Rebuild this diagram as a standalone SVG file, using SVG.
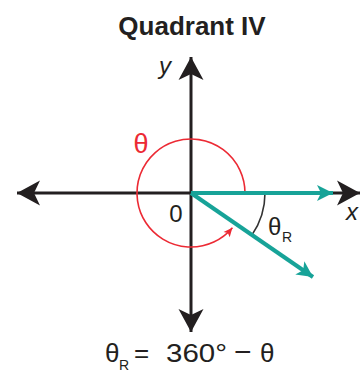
<svg xmlns="http://www.w3.org/2000/svg" width="362" height="373" viewBox="0 0 362 373">
<style>
text{font-family:"Liberation Sans",Arial,sans-serif;fill:#231f20}
.axis{stroke:#231f20;stroke-width:3;fill:none}
.teal{stroke:#17a398;stroke-width:4;fill:none}
.red{stroke:#ec2a34;stroke-width:1.6;fill:none}
.arc{stroke:#333;stroke-width:1.6;fill:none}
</style>
<defs>
<marker id="blk" viewBox="-24 -13 25 26" refX="0" refY="0" markerWidth="25" markerHeight="26" markerUnits="userSpaceOnUse" orient="auto">
<path d="M0,0 L-23,-12.5 L-17,0 L-23,12.5 Z" fill="#231f20"/>
</marker>
<marker id="tl" viewBox="-17 -9 18 18" refX="0" refY="0" markerWidth="18" markerHeight="18" markerUnits="userSpaceOnUse" orient="auto">
<path d="M0,0 L-16,-8 L-12,0 L-16,8 Z" fill="#17a398"/>
</marker>
<marker id="rd" viewBox="-10 -5 11 10" refX="0" refY="0" markerWidth="11" markerHeight="10" markerUnits="userSpaceOnUse" orient="auto">
<path d="M0,0 L-9,-4 L-7,0 L-9,4 Z" fill="#ec2a34"/>
</marker>
</defs>
<text x="192" y="35" font-size="26" font-weight="bold" text-anchor="middle">Quadrant IV</text>
<g id="connectors">
<line class="axis" x1="191" y1="193" x2="191" y2="57" marker-end="url(#blk)"/>
<line class="axis" x1="191" y1="193" x2="191" y2="332" marker-end="url(#blk)"/>
<line class="axis" x1="191" y1="193" x2="17" y2="193" marker-end="url(#blk)"/>
<line class="axis" x1="191" y1="193" x2="360" y2="193" marker-end="url(#blk)"/>
<path class="red" d="M245,193 A54,54 0 1 0 232.4,227.7" marker-end="url(#rd)"/>
<path class="arc" d="M265,193 A74,74 0 0 1 252,234.9"/>
<line class="teal" x1="191" y1="193" x2="333" y2="193" marker-end="url(#tl)"/>
<line class="teal" x1="191" y1="193" x2="313" y2="277" marker-end="url(#tl)"/>
</g>
<g id="labels">
<text x="159" y="74" font-size="24" font-style="italic">y</text>
<text x="346" y="220" font-size="24" font-style="italic">x</text>
<text x="141" y="153" font-size="27" text-anchor="middle" style="fill:#ec2a34">θ</text>
<text x="176" y="222" font-size="24" text-anchor="middle">0</text>
<text x="268" y="235" font-size="24">θ</text>
<text x="282" y="242" font-size="14">R</text>
<text x="105" y="362" font-size="26">θ</text>
<text x="119" y="370" font-size="14">R</text>
<text y="362" font-size="26"><tspan x="134">=</tspan></text>
<text x="166" y="362" font-size="26" textLength="61" lengthAdjust="spacingAndGlyphs">360°</text>
<text x="234" y="362" font-size="30">−</text>
<text x="260" y="362" font-size="26">θ</text>
</g>
</svg>
